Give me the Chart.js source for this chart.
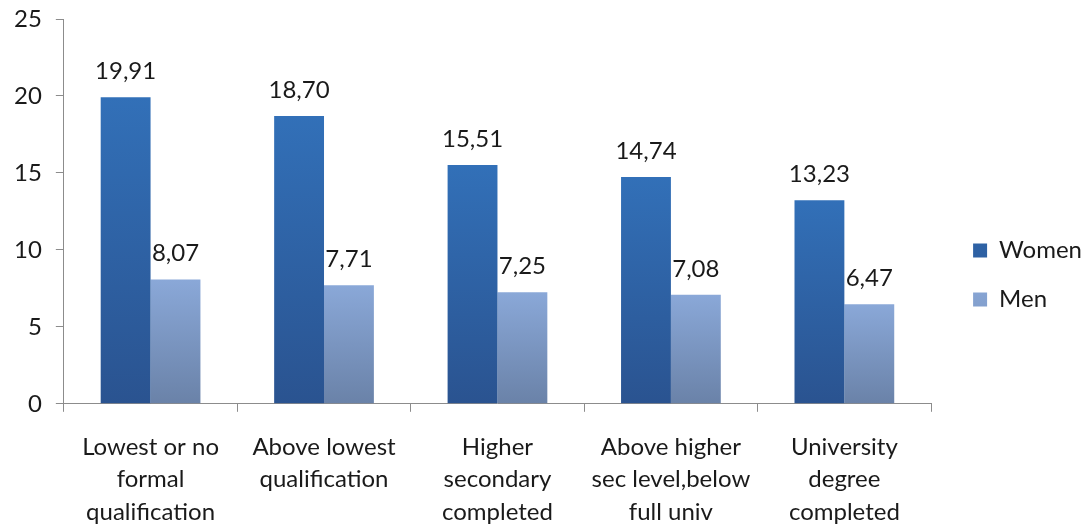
<!DOCTYPE html>
<html>
<head>
<meta charset="utf-8">
<script src="https://cdn.jsdelivr.net/npm/chart.js@4"></script>
<style>
  body { margin: 0; background: #fff; }
  #wrap { width: 1083px; height: 525px; }
</style>
</head>
<body>
<div id="wrap"><canvas id="barChart"></canvas></div>
<script>
// chart data
const categories = [
  ["Lowest or no", "formal", "qualification"],
  ["Above lowest", "qualification"],
  ["Higher", "secondary", "completed"],
  ["Above higher", "sec level,below", "full univ"],
  ["University", "degree", "completed"],
];
const women = [19.91, 18.7, 15.51, 14.74, 13.23];
const men = [8.07, 7.71, 7.25, 7.08, 6.47];
const yTicks = [0, 5, 10, 15, 20, 25];

const fontFamily = "Lato, 'Open Sans', sans-serif";

// vertical gradient per bar, from top of bar down to the axis
const barGradient = (top, bottom) => (context) => {
  const chart = context.chart;
  const yScale = chart.scales.y;
  if (!chart.chartArea || !yScale || context.raw === undefined) return top;
  const y0 = yScale.getPixelForValue(context.raw);
  const y1 = yScale.getPixelForValue(0);
  if (!Number.isFinite(y0) || !Number.isFinite(y1)) return top;
  const g = chart.ctx.createLinearGradient(0, y0, 0, y1);
  g.addColorStop(0, top);
  g.addColorStop(1, bottom);
  return g;
};

// value labels above each bar, comma decimals
const valueLabels = {
  id: "valueLabels",
  afterDatasetsDraw(chart) {
    const ctx = chart.ctx;
    ctx.save();
    ctx.font = "24px " + fontFamily;
    ctx.fillStyle = "#1a1a1a";
    ctx.textAlign = "center";
    ctx.textBaseline = "middle";
    chart.data.datasets.forEach((ds, i) => {
      chart.getDatasetMeta(i).data.forEach((bar, j) => {
        const txt = ds.data[j].toFixed(2).replace(".", ",");
        ctx.fillText(txt, bar.x, bar.y - 26);
      });
    });
    ctx.restore();
  },
};

// leave a wider gap between the plot and the legend, and nudge the legend
const LEGEND_EXTRA = 8;
const LEGEND_SHIFT = 17;
const legendGap = {
  id: "legendGap",
  afterInit(chart) {
    const legend = chart.legend;
    const fit = legend.fit;
    legend.fit = function () {
      fit.call(this);
      this.width += LEGEND_EXTRA;
    };
  },
  afterLayout(chart) {
    const legend = chart.legend;
    legend.left += LEGEND_SHIFT;
    legend.right += LEGEND_SHIFT;
    legend.top -= 8;
    legend.bottom -= 8;
  },
};

const ctx = document.getElementById("barChart").getContext("2d");
new Chart(ctx, {
  type: "bar",
  data: {
    labels: categories,
    datasets: [
      {
        label: "Women",
        data: women,
        backgroundColor: barGradient("#3270b8", "#2a5390"),
        borderWidth: 0,
      },
      {
        label: "Men",
        data: men,
        backgroundColor: barGradient("#8aa8d8", "#6a82a8"),
        borderWidth: 0,
      },
    ],
  },
  options: {
    responsive: true,
    maintainAspectRatio: false,
    animation: false,
    layout: { padding: { top: 19, left: 0, right: 0, bottom: -22 } },
    datasets: {
      bar: { categoryPercentage: 0.575, barPercentage: 1 },
    },
    scales: {
      x: {
        grid: {
          display: true,
          offset: true,
          drawOnChartArea: false,
          tickLength: 8,
          color: "#8c8c8c",
        },
        border: { color: "#8c8c8c" },
        ticks: {
          color: "#1a1a1a",
          font: { family: fontFamily, size: 24, lineHeight: 1.35 },
          maxRotation: 0,
          padding: 19,
        },
      },
      y: {
        min: 0,
        max: 25,
        afterBuildTicks(axis) {
          axis.ticks = yTicks.map((v) => ({ value: v }));
        },
        afterFit(axis) {
          axis.paddingTop = 0;
        },
        grid: {
          display: true,
          drawOnChartArea: false,
          tickLength: 8,
          color: "#8c8c8c",
        },
        border: { color: "#8c8c8c" },
        ticks: {
          color: "#1a1a1a",
          font: { family: fontFamily, size: 24 },
          padding: 14,
        },
      },
    },
    plugins: {
      legend: {
        position: "right",
        labels: {
          color: "#1a1a1a",
          font: { family: fontFamily, size: 24 },
          boxWidth: 14,
          boxHeight: 14,
          padding: 25,
        },
      },
      tooltip: { enabled: false },
    },
  },
  plugins: [valueLabels, legendGap],
});
</script>
</body>
</html>
